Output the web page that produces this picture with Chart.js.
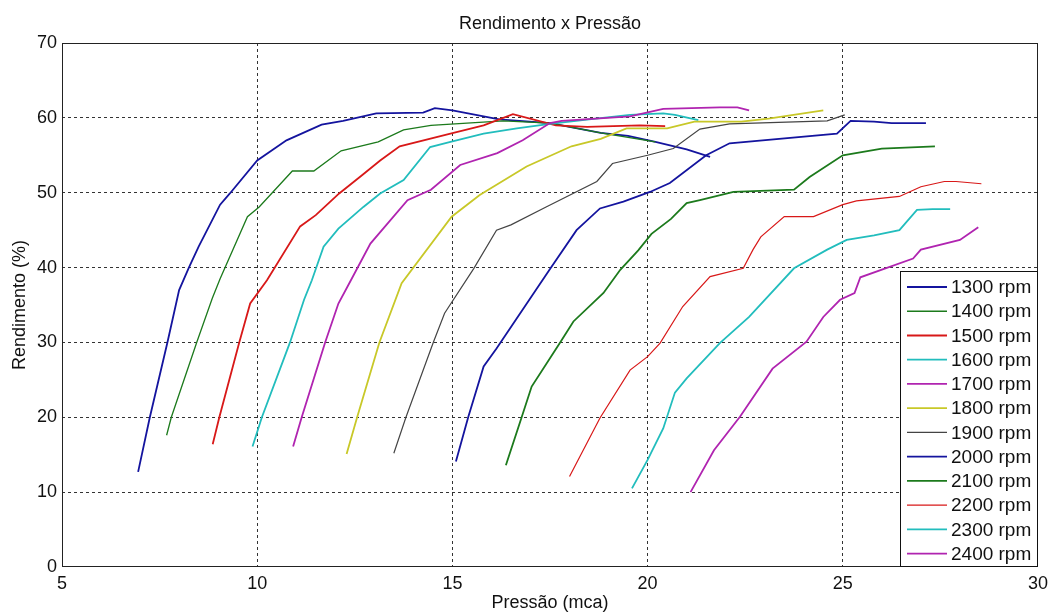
<!DOCTYPE html>
<html>
<head>
<meta charset="utf-8">
<script src="https://cdn.jsdelivr.net/npm/chart.js@4.4.1/dist/chart.umd.min.js"></script>
<style>
  html, body { margin: 0; padding: 0; background: #fff; }
  #wrap { position: relative; width: 1051px; height: 615px; }
</style>
</head>
<body>
<div id="wrap"><canvas id="chart"></canvas></div>
<script>
// ─────────────────────────────────────────────
//  DATA  (pressão mca, rendimento %)
// ─────────────────────────────────────────────
const rpmLabels = ['1300 rpm','1400 rpm','1500 rpm','1600 rpm','1700 rpm','1800 rpm',
                   '1900 rpm','2000 rpm','2100 rpm','2200 rpm','2300 rpm','2400 rpm'];
const xTicks = [5, 10, 15, 20, 25, 30];
const yTicks = [0, 10, 20, 30, 40, 50, 60, 70];

const s1300 = [[6.95,12.7],[7.25,20],[7.7,30],[8.0,37],[8.25,40],[8.5,42.8],[9.05,48.4],[9.3,49.9],
  [10.0,54.3],[10.75,57.0],[11.65,59.1],[12.2,59.6],[13.05,60.6],[14.25,60.7],[14.55,61.3],[15.0,61.0],
  [16.2,59.8],[17.5,59.3],[18.8,58.0],[19.5,57.6],[20.2,56.8],[21.0,55.8],[21.6,54.8]];
const s1400 = [[7.68,17.6],[7.8,20],[8.45,30],[8.85,35.9],[9.05,38.5],[9.75,46.8],[10.05,48.1],[10.9,52.9],
  [11.45,52.9],[12.15,55.6],[13.1,56.8],[13.75,58.4],[14.45,59.0],[16.3,59.6],[17.5,59.3],[18.8,58.0],[20.2,56.8]];
const s1500 = [[8.86,16.4],[9.03,20],[9.54,30],[9.82,35.2],[10.25,38.3],[11.1,45.5],[11.5,47.0],[12.1,49.9],
  [12.7,52.4],[13.15,54.3],[13.65,56.2],[14.95,57.9],[15.8,59.0],[16.55,60.5],[17.65,59.0],[18.45,58.8],
  [19.8,59.0],[20.45,58.9]];
const s1600 = [[9.88,16.1],[10.12,20],[10.84,30],[11.2,35.7],[11.4,38.3],[11.7,42.8],[12.08,45.2],[12.72,48.1],
  [13.15,49.9],[13.75,51.7],[14.43,56.1],[14.95,56.8],[15.8,57.9],[16.65,58.6],[17.5,59.2],[18.5,59.8],
  [19.55,60.4],[20.4,60.6],[20.7,60.4],[21.3,59.7]];
const s1700 = [[10.92,16.1],[11.14,20],[11.74,30],[12.08,35.2],[12.4,38.3],[12.9,43.2],[13.85,49.0],[14.45,50.4],
  [15.2,53.7],[16.15,55.3],[16.8,57.0],[17.5,59.3],[17.8,59.6],[19.55,60.2],[20.4,61.2],[21.85,61.4],
  [22.3,61.4],[22.6,61.0]];
const s1800 = [[12.29,15.1],[12.56,20],[13.13,30],[13.7,37.9],[14.98,46.8],[15.7,49.7],[16.9,53.5],[18.05,56.2],
  [18.8,57.2],[19.46,58.6],[20.5,58.6],[21.2,59.5],[22.4,59.5],[23.1,59.9],[24.5,61.0]];
const s1900 = [[13.5,15.2],[13.81,20],[14.51,30],[14.8,33.9],[15.55,39.9],[16.13,45.0],[16.5,45.7],[17.4,48.1],
  [18.7,51.5],[19.1,53.9],[20.0,55.0],[20.66,55.9],[21.34,58.5],[22.1,59.2],[24.6,59.6],[25.05,60.4]];
const s2000 = [[15.09,14.1],[15.41,20.1],[15.8,26.8],[16.13,29.2],[17.5,39.8],[18.18,45.0],[18.78,47.9],
  [19.38,48.8],[20.06,50.1],[20.57,51.3],[21.5,55.0],[22.1,56.6],[24.85,57.9],[25.2,59.6],[25.8,59.5],
  [26.25,59.3],[27.13,59.3]];
const s2100 = [[16.37,13.6],[16.78,20.1],[17.03,24.1],[17.76,30.0],[18.1,32.8],[18.87,36.6],[19.3,39.7],
  [19.76,42.3],[20.1,44.5],[20.6,46.5],[21.0,48.6],[21.34,49.0],[22.2,50.1],[23.75,50.4],[24.15,52.1],
  [25.0,55.0],[26.0,55.9],[27.36,56.2]];
const s2200 = [[18.0,12.1],[18.78,19.9],[19.55,26.3],[20.0,28.1],[20.32,29.9],[20.9,34.8],[21.6,38.8],
  [22.45,39.9],[22.7,42.4],[22.9,44.1],[23.5,46.8],[24.25,46.8],[25.0,48.4],[25.35,48.9],[26.45,49.5],
  [27.0,50.8],[27.6,51.5],[27.9,51.5],[28.55,51.2]];
const s2300 = [[19.6,10.5],[20.0,14.3],[20.4,18.5],[20.7,23.3],[21.0,25.2],[21.85,29.9],[22.6,33.4],
  [23.75,39.9],[24.6,42.4],[25.1,43.7],[25.8,44.3],[26.45,45.0],[26.9,47.7],[27.3,47.8],[27.75,47.8]];
const s2400 = [[21.1,10.0],[21.7,15.6],[22.37,20.1],[23.2,26.5],[24.07,30.1],[24.5,33.4],[24.93,35.7],
  [25.3,36.6],[25.45,38.7],[26.8,41.2],[27.0,42.4],[28.0,43.7],[28.47,45.4]];

const seriesData = [s1300,s1400,s1500,s1600,s1700,s1800,s1900,s2000,s2100,s2200,s2300,s2400];

// MATLAB-ish colour order
const lineColors = ['#14149e','#1c7a1c','#d81818','#22bdbd','#b024b0','#c8c828','#444444',
                    '#14149e','#1c7a1c','#d81818','#22bdbd','#b024b0'];
const lineWidths = [1.8,1.3,1.8,1.8,1.8,1.8,1.2,1.8,1.8,1.2,1.8,1.8];

const FONT = "'Liberation Sans', Arial, sans-serif";

// ─────────────────────────────────────────────
//  PLUGINS: title, frame, legend box
// ─────────────────────────────────────────────
const framePlugin = {
  id: 'frame',
  afterDraw(chart) {
    const { ctx, chartArea: a } = chart;
    ctx.save();
    // title centred over the axes
    ctx.fillStyle = '#111';
    ctx.font = `18px ${FONT}`;
    ctx.textAlign = 'center';
    ctx.textBaseline = 'middle';
    ctx.fillText('Rendimento x Pressão', (a.left + a.right) / 2, 24);
    // axes box
    ctx.strokeStyle = '#222';
    ctx.lineWidth = 1;
    ctx.strokeRect(a.left + 0.5, a.top + 0.5, a.right - a.left - 1, a.bottom - a.top - 1);

    // legend in the lower right corner
    const w = 138, h = 296, rowH = 24.24;
    const lx = a.right - w, ly = a.bottom - h;
    ctx.fillStyle = '#fff';
    ctx.fillRect(lx, ly, w, h);
    ctx.strokeStyle = '#111';
    ctx.strokeRect(lx + 0.5, ly + 0.5, w - 1, h - 1);
    ctx.font = `19px ${FONT}`;
    ctx.textAlign = 'left';
    rpmLabels.forEach((lab, i) => {
      const cy = ly + 16 + i * rowH;
      ctx.strokeStyle = lineColors[i];
      ctx.lineWidth = lineWidths[i];
      ctx.beginPath();
      ctx.moveTo(lx + 7, cy);
      ctx.lineTo(lx + 47, cy);
      ctx.stroke();
      ctx.fillStyle = '#111';
      ctx.fillText(lab, lx + 51, cy + 1);
    });
    ctx.restore();
  }
};

// ─────────────────────────────────────────────
//  CHART
// ─────────────────────────────────────────────
const edgeGrid = (ticks) => (ctx) => {
  const v = ctx.tick && ctx.tick.value;
  return (v === ticks[0] || v === ticks[ticks.length - 1]) ? 'rgba(0,0,0,0)' : '#333';
};

new Chart(document.getElementById('chart'), {
  type: 'scatter',
  data: {
    datasets: seriesData.map((pts, i) => ({
      label: rpmLabels[i],
      data: pts.map(p => ({ x: p[0], y: p[1] })),
      showLine: true,
      borderColor: lineColors[i],
      borderWidth: lineWidths[i],
      pointRadius: 0,
      tension: 0,
      fill: false,
      order: seriesData.length - i
    }))
  },
  options: {
    responsive: true,
    maintainAspectRatio: false,
    animation: false,
    layout: { padding: { top: 43, right: 13, bottom: 0, left: 0 } },
    plugins: { legend: { display: false }, tooltip: { enabled: false }, title: { display: false } },
    scales: {
      x: {
        type: 'linear', min: 5, max: 30,
        afterBuildTicks: s => { s.ticks = xTicks.map(v => ({ value: v })); },
        afterFit: s => { s.height = 48; s.paddingLeft = 0; s.paddingRight = 0; },
        grid: { color: edgeGrid(xTicks), lineWidth: 1, drawTicks: false },
        border: { display: false, dash: [3, 3] },
        ticks: { color: '#111', font: { family: FONT, size: 18 }, padding: 6, maxRotation: 0 },
        title: { display: true, text: 'Pressão (mca)', color: '#111',
                 font: { family: FONT, size: 18 }, padding: { top: 0, bottom: 1 } }
      },
      y: {
        type: 'linear', min: 0, max: 70,
        afterBuildTicks: s => { s.ticks = yTicks.map(v => ({ value: v })); },
        afterFit: s => { s.width = 62; s.paddingTop = 0; s.paddingBottom = 0; },
        grid: { color: edgeGrid(yTicks), lineWidth: 1, drawTicks: false },
        border: { display: false, dash: [3, 3] },
        ticks: { color: '#111', font: { family: FONT, size: 18 }, padding: 5 },
        title: { display: true, text: 'Rendimento (%)', color: '#111',
                 font: { family: FONT, size: 18 }, padding: { top: 9, bottom: 0 } }
      }
    }
  },
  plugins: [framePlugin]
});
</script>
</body>
</html>
